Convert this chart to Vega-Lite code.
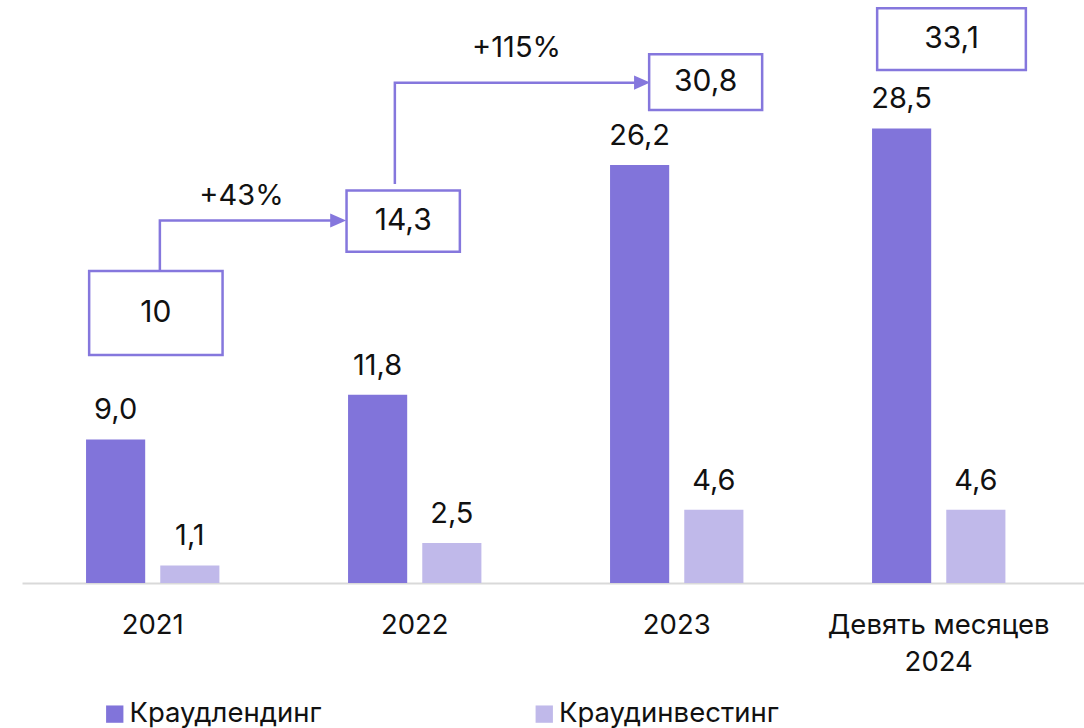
{
  "$schema": "https://vega.github.io/schema/vega-lite/v6.json",
  "width": 1062,
  "height": 583,
  "autosize": {"type": "none"},
  "padding": {"left": 22, "top": 0, "right": 0, "bottom": 145},
  "background": "white",
  "config": {
    "font": "Inter",
    "view": {"stroke": null},
    "locale": {"number": {"decimal": ",", "thousands": " ", "grouping": [3], "currency": ["", " ₽"]}}
  },
  "datasets": {
    "bars": [
      {"cat": "2021", "series": "Краудлендинг", "v": 9.0},
      {"cat": "2021", "series": "Краудинвестинг", "v": 1.1},
      {"cat": "2022", "series": "Краудлендинг", "v": 11.8},
      {"cat": "2022", "series": "Краудинвестинг", "v": 2.5},
      {"cat": "2023", "series": "Краудлендинг", "v": 26.2},
      {"cat": "2023", "series": "Краудинвестинг", "v": 4.6},
      {"cat": "Девять месяцев 2024", "series": "Краудлендинг", "v": 28.5},
      {"cat": "Девять месяцев 2024", "series": "Краудинвестинг", "v": 4.6}
    ],
    "totals": [
      {"total": 10, "u1": -0.2418, "u2": 0.2674, "v1": 14.29, "v2": 19.56, "uc": 0.0128, "vc": 16.93},
      {"total": 14.3, "u1": 0.7406, "u2": 1.1731, "v1": 20.77, "v2": 24.6, "uc": 0.9569, "vc": 22.68},
      {"total": 30.8, "u1": 1.8956, "u2": 2.3269, "v1": 29.66, "v2": 33.15, "uc": 2.1113, "vc": 31.4},
      {"total": 33.1, "u1": 2.7658, "u2": 3.3334, "v1": 32.16, "v2": 36.03, "uc": 3.0496, "vc": 34.1}
    ],
    "arrows": [
      {"arrow": "a1", "step": 1, "u": 0.0281, "v": 19.56},
      {"arrow": "a1", "step": 2, "u": 0.0281, "v": 22.73},
      {"arrow": "a1", "step": 3, "u": 0.682, "v": 22.73},
      {"arrow": "a2", "step": 1, "u": 0.925, "v": 25.02},
      {"arrow": "a2", "step": 2, "u": 0.925, "v": 31.37},
      {"arrow": "a2", "step": 3, "u": 1.845, "v": 31.37}
    ],
    "heads": [
      {"arrow": "a1", "u": 0.7088, "v": 22.73},
      {"arrow": "a2", "u": 1.8685, "v": 31.37}
    ],
    "growth": [
      {"pct": "+43%", "u": 0.3397, "v": 23.7},
      {"pct": "+115%", "u": 1.3895, "v": 33.0}
    ]
  },
  "resolve": {"scale": {"x": "independent"}},
  "layer": [
    {
      "data": {"name": "bars"},
      "encoding": {
        "x": {
          "field": "cat", "type": "nominal", "title": null,
          "scale": {"paddingInner": 0.491, "paddingOuter": 0.2722, "align": 0.449},
          "axis": {
            "orient": "bottom",
            "domainColor": "#d9d9d9", "domainWidth": 2,
            "ticks": false, "labelAngle": 0,
            "labelFontSize": 27.5, "labelColor": "#111111",
            "labelPadding": 28, "labelLineHeight": 37, "labelLimit": 400,
            "labelExpr": "datum.value == 'Девять месяцев 2024' ? ['Девять месяцев', '2024'] : datum.label"
          }
        },
        "xOffset": {
          "field": "series", "type": "nominal",
          "sort": ["Краудлендинг", "Краудинвестинг"],
          "scale": {"paddingInner": 0.203, "paddingOuter": 0}
        },
        "y": {"field": "v", "type": "quantitative", "axis": null, "scale": {"domain": [0, 36.55], "nice": false, "zero": true}}
      },
      "layer": [
        {
          "mark": {"type": "bar"},
          "encoding": {
            "color": {
              "field": "series", "type": "nominal",
              "scale": {"domain": ["Краудлендинг", "Краудинвестинг"], "range": ["#8174da", "#c0b9ea"]},
              "legend": {
                "orient": "none", "legendX": 79, "legendY": 700,
                "direction": "horizontal", "title": null,
                "symbolType": "square", "symbolSize": 300, "symbolStrokeWidth": 0,
                "labelFontSize": 27.5, "labelColor": "#111111", "labelOffset": 1,
                "columnPadding": 208.5, "padding": 0, "labelLimit": 400
              }
            }
          }
        },
        {
          "mark": {"type": "text", "baseline": "alphabetic", "dy": -20, "fontSize": 29, "color": "#111111"},
          "encoding": {"text": {"field": "v", "type": "quantitative", "format": ".1f"}}
        }
      ]
    },
    {
      "layer": [
        {
          "data": {"name": "totals"},
          "mark": {"type": "rect", "fill": "white", "stroke": "#8577dd", "strokeWidth": 2.5},
          "encoding": {
            "x": {"field": "u1", "type": "quantitative", "axis": null, "scale": {"domain": [-0.4981, 3.5553], "nice": false, "zero": false}},
            "x2": {"field": "u2"},
            "y": {"field": "v1", "type": "quantitative", "axis": null, "scale": {"domain": [0, 36.55], "nice": false}},
            "y2": {"field": "v2"}
          }
        },
        {
          "data": {"name": "totals"},
          "mark": {"type": "text", "baseline": "middle", "align": "center", "fontSize": 30, "color": "#111111"},
          "encoding": {
            "x": {"field": "uc", "type": "quantitative", "axis": null, "scale": {"domain": [-0.4981, 3.5553], "nice": false, "zero": false}},
            "y": {"field": "vc", "type": "quantitative", "axis": null, "scale": {"domain": [0, 36.55], "nice": false}},
            "text": {"field": "total", "type": "quantitative", "format": "~f"}
          }
        },
        {
          "data": {"name": "arrows"},
          "mark": {"type": "line", "color": "#8577dd", "strokeWidth": 2.5, "interpolate": "linear"},
          "encoding": {
            "x": {"field": "u", "type": "quantitative", "axis": null, "scale": {"domain": [-0.4981, 3.5553], "nice": false, "zero": false}},
            "y": {"field": "v", "type": "quantitative", "axis": null, "scale": {"domain": [0, 36.55], "nice": false}},
            "detail": {"field": "arrow"},
            "order": {"field": "step", "type": "quantitative"}
          }
        },
        {
          "data": {"name": "heads"},
          "mark": {"type": "point", "shape": "M1,0L-1,-0.88L-1,0.88Z", "size": 256, "filled": true, "color": "#8577dd", "opacity": 1},
          "encoding": {
            "x": {"field": "u", "type": "quantitative", "axis": null, "scale": {"domain": [-0.4981, 3.5553], "nice": false, "zero": false}},
            "y": {"field": "v", "type": "quantitative", "axis": null, "scale": {"domain": [0, 36.55], "nice": false}}
          }
        },
        {
          "data": {"name": "growth"},
          "mark": {"type": "text", "baseline": "alphabetic", "align": "center", "fontSize": 29, "color": "#111111"},
          "encoding": {
            "x": {"field": "u", "type": "quantitative", "axis": null, "scale": {"domain": [-0.4981, 3.5553], "nice": false, "zero": false}},
            "y": {"field": "v", "type": "quantitative", "axis": null, "scale": {"domain": [0, 36.55], "nice": false}},
            "text": {"field": "pct"}
          }
        }
      ]
    }
  ]
}
